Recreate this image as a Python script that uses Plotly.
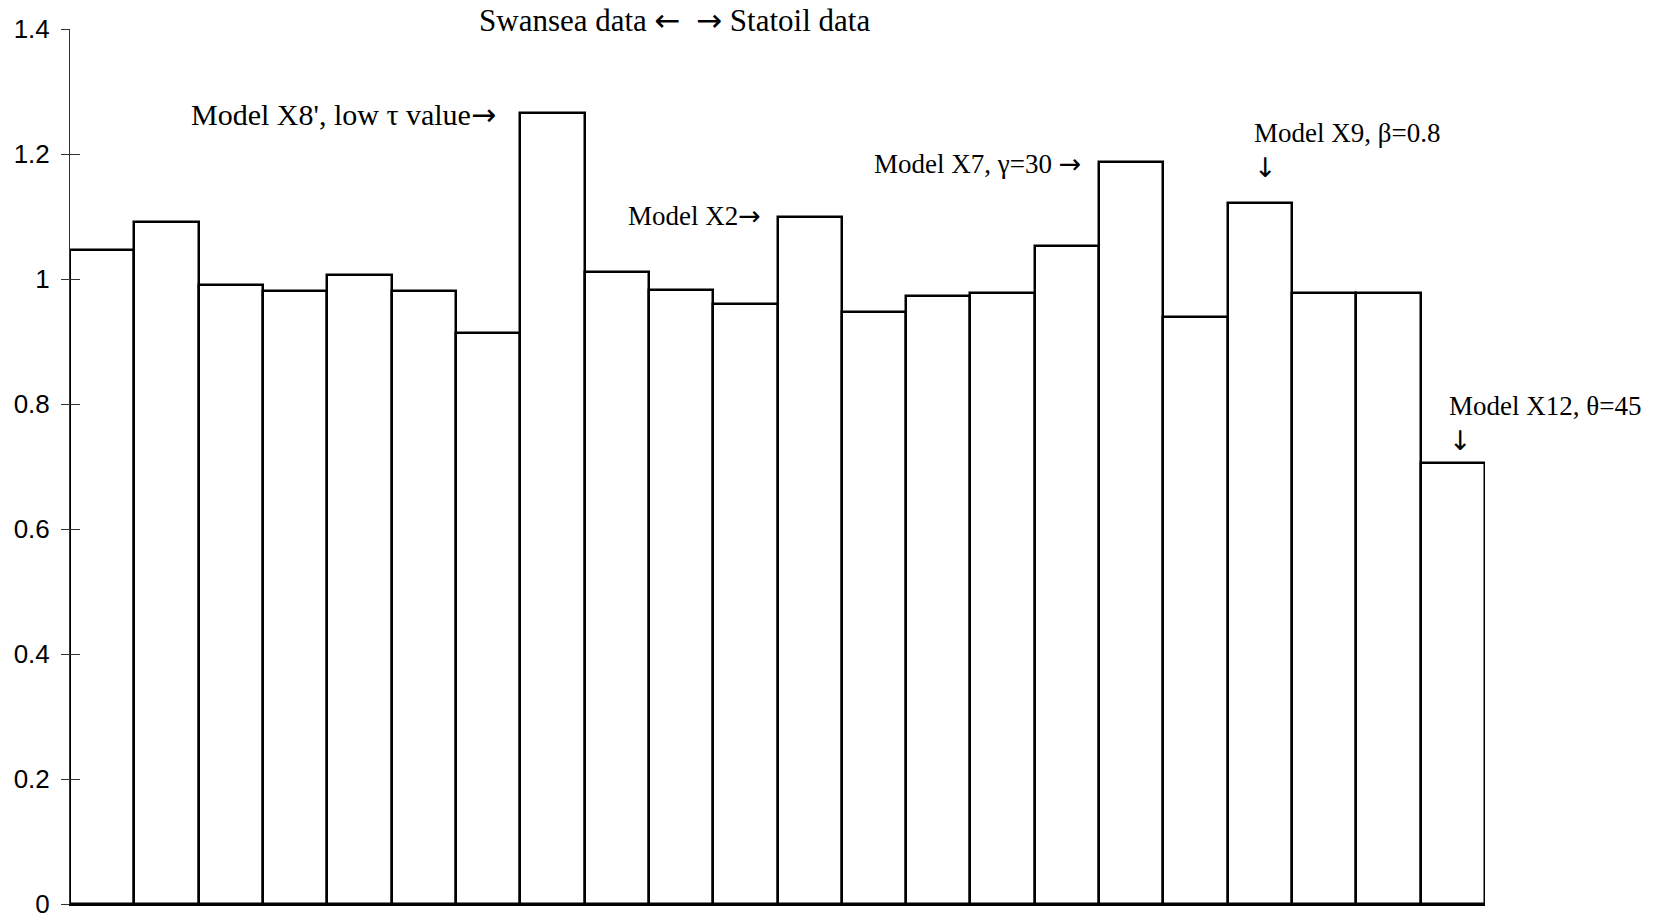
import plotly.graph_objects as go

# Ratio for each model case, left to right
cases = list(range(22))
ratios = [1.046, 1.092, 0.991, 0.981, 1.006, 0.981, 0.914, 1.266, 1.011, 0.982, 0.960,
          1.100, 0.948, 0.973, 0.977, 1.053, 1.188, 0.940, 1.121, 0.977, 0.978, 0.706]

y_ticks = [0, 0.2, 0.4, 0.6, 0.8, 1.0, 1.2, 1.4]
y_tick_text = ["0", "0.2", "0.4", "0.6", "0.8", "1", "1.2", "1.4"]

SERIF = "Liberation Serif, Times New Roman, serif"
serif = dict(family=SERIF, size=27, color="black")
serif_big = dict(family=SERIF, size=30, color="black")
serif_title = dict(family=SERIF, size=31, color="black")


def arrow(ch):
    # wider arrow glyphs than the serif face provides
    return '<span style="font-family:DejaVu Sans">' + ch + '</span>'


RIGHT, LEFT, DOWN = arrow("\u2192"), arrow("\u2190"), arrow("\u2193")

fig = go.Figure()
fig.add_trace(go.Bar(
    x=cases, y=ratios, width=1,
    marker=dict(color="white", line=dict(color="black", width=2.5)),
    hoverinfo="skip", showlegend=False,
))

fig.update_layout(
    width=1655, height=919,
    margin=dict(l=70, r=170, t=29, b=15),
    paper_bgcolor="white", plot_bgcolor="white",
    bargap=0,
    xaxis=dict(range=[-0.5, 21.5], showgrid=False, zeroline=False, showticklabels=False,
               ticks="", showline=True, linecolor="black", linewidth=2, automargin=False),
    yaxis=dict(range=[0, 1.4], tickvals=y_ticks, ticktext=y_tick_text, automargin=False,
               showgrid=False, zeroline=False, showline=True, linecolor="#333", linewidth=1,
               ticks="outside", ticklen=8, tickcolor="#333", tickwidth=1,
               ticklabelstandoff=6, ticklabeloverflow="allow",
               tickfont=dict(family="Liberation Sans, Arial, sans-serif", size=26, color="black")),
    yaxis2=dict(range=[0, 1.4], tickvals=y_ticks, overlaying="y", side="left", automargin=False,
                showgrid=False, zeroline=False, showticklabels=False, showline=False,
                ticks="inside", ticklen=10, tickcolor="#333", tickwidth=1),
)

# invisible trace so the inner tick axis is drawn
fig.add_trace(go.Scatter(x=[0], y=[0], yaxis="y2", mode="markers",
                         marker=dict(opacity=0), hoverinfo="skip", showlegend=False))

fig.add_annotation(xref="x", yref="paper", x=8.906, y=1.0105, showarrow=False, font=serif_title,
                   text="Swansea data " + LEFT + "  " + RIGHT + " Statoil data",
                   xanchor="center", yanchor="middle")

notes = [
    dict(x=6.154, y=1.2635, text="Model X8', low \u03c4 value" + RIGHT, xanchor="right",
         yanchor="middle", font=serif_big),
    dict(x=10.274, y=1.1024, text="Model X2" + RIGHT, xanchor="right", yanchor="middle", font=serif),
    dict(x=15.25, y=1.1851, text="Model X7, \u03b3=30 " + RIGHT, xanchor="right", yanchor="middle", font=serif),
    dict(x=17.877, y=1.2051, text="Model X9, \u03b2=0.8<br>" + DOWN, xanchor="left", yanchor="middle",
         align="left", font=serif),
    dict(x=20.91, y=0.7683, text="Model X12, \u03b8=45<br>" + DOWN, xanchor="left", yanchor="middle",
         align="left", font=serif),
]
for n in notes:
    fig.add_annotation(xref="x", yref="y", showarrow=False, **n)

fig.write_html("out.html")
